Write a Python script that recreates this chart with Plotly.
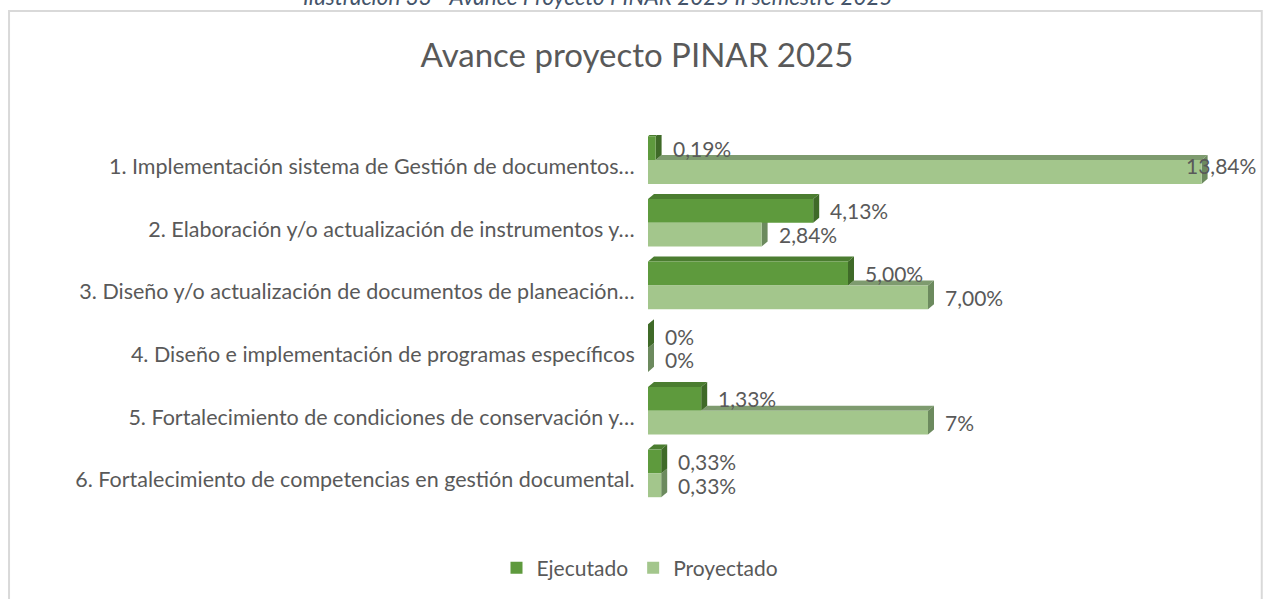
import plotly.graph_objects as go

categories = [
    "1. Implementación sistema de Gestión de documentos…",
    "2. Elaboración y/o actualización de instrumentos y…",
    "3. Diseño y/o actualización de documentos de planeación…",
    "4. Diseño e implementación de programas específicos",
    "5. Fortalecimiento de condiciones de conservación y…",
    "6. Fortalecimiento de competencias en gestión documental.",
]
ejecutado = [0.19, 4.13, 5.00, 0.0, 1.33, 0.33]
proyectado = [13.84, 2.84, 7.00, 0.0, 7.00, 0.33]
ejecutado_labels = ["0,19%", "4,13%", "5,00%", "0%", "1,33%", "0,33%"]
proyectado_labels = ["13,84%", "2,84%", "7,00%", "0%", "7%", "0,33%"]

FONT = "Lato"
GREY = "#595959"
C_EJ = "#5E9A3D"
C_EJ_TOP = "#4B7D30"
C_EJ_SIDE = "#3F6A28"
C_PR = "#A3C68C"
C_PR_TOP = "#7E9B6F"
C_PR_SIDE = "#6C8A5E"

ypos = list(range(len(categories)))
BW = 0.38          # bar thickness (category units)
OFF_EJ = -0.48     # Ejecutado bar offset from category centre
OFF_PR = -0.10     # Proyectado bar offset from category centre
DX = 0.15          # 3D depth, x data units
DY = 0.08          # 3D depth, category units
XMAX = 14
PX_PER_X = 560 / XMAX

fig = go.Figure()
fig.add_trace(go.Bar(
    name="Ejecutado", y=ypos, x=ejecutado, orientation="h",
    width=BW, offset=OFF_EJ,
    marker=dict(color=C_EJ, line=dict(width=0)),
))
fig.add_trace(go.Bar(
    name="Proyectado", y=ypos, x=proyectado, orientation="h",
    width=BW, offset=OFF_PR,
    marker=dict(color=C_PR, line=dict(width=0)),
))

shapes = []
def poly(pts, color):
    d = "M " + " L ".join(f"{x},{y}" for x, y in pts) + " Z"
    return dict(type="path", path=d, xref="x", yref="y", fillcolor=color,
                line=dict(width=0), layer="below")

# Proyectado 3D faces (drawn first, partly hidden by Ejecutado bars)
for i, ve, vp in zip(ypos, ejecutado, proyectado):
    top = i + OFF_PR
    bot = top + BW
    if vp > ve:
        shapes.append(poly([(ve, top), (vp, top), (vp + DX, top - DY), (ve + DX, top - DY)], C_PR_TOP))
    shapes.append(poly([(vp, top), (vp, bot), (vp + DX, bot - DY), (vp + DX, top - DY)], C_PR_SIDE))
# Ejecutado 3D faces
for i, ve in zip(ypos, ejecutado):
    top = i + OFF_EJ
    bot = top + BW
    shapes.append(poly([(0, top), (ve, top), (ve + DX, top - DY), (DX, top - DY)], C_EJ_TOP))
    shapes.append(poly([(ve, top), (ve, bot), (ve + DX, bot - DY), (ve + DX, top - DY)], C_EJ_SIDE))

# chart border
shapes.append(dict(type="rect", xref="paper", yref="paper", x0=-1.141, x1=1.096,
                   y0=-0.4, y1=1.330, line=dict(color="#D9D9D9", width=2),
                   fillcolor="rgba(0,0,0,0)", layer="below"))

# data labels
annotations = []
LBL_FONT = dict(family=FONT, size=21, color=GREY)
def add_labels(values, labels, off):
    for i, v, t in zip(ypos, values, labels):
        y = i + off + BW / 2
        if v * PX_PER_X + 16 + 60 > 607:
            annotations.append(dict(x=v, y=y, xref="x", yref="y", text=t, showarrow=False,
                                    xanchor="right", xshift=56, yshift=6, font=LBL_FONT))
        else:
            annotations.append(dict(x=v, y=y, xref="x", yref="y", text=t, showarrow=False,
                                    xanchor="left", xshift=15, font=LBL_FONT))
add_labels(ejecutado, ejecutado_labels, OFF_EJ)
add_labels(proyectado, proyectado_labels, OFF_PR)

annotations.append(dict(text="<i>Ilustración 33 - Avance Proyecto PINAR 2025 II semestre 2025</i>",
                        xref="paper", yref="paper", x=(598 - 648) / 560, y=(511 - 12) / 376,
                        xanchor="center", yanchor="bottom", showarrow=False,
                        font=dict(family=FONT, size=22.5, color="#44546A")))

fig.update_layout(
    width=1264, height=599,
    margin=dict(l=648, r=56, t=135, b=88, autoexpand=False),
    paper_bgcolor="white", plot_bgcolor="white",
    barmode="overlay",
    shapes=shapes,
    annotations=annotations,
    font=dict(family=FONT, color=GREY),
    title=dict(text="Avance proyecto PINAR 2025", x=637 / 1264, xref="container",
               xanchor="center", y=1 - 55 / 599, yref="container", yanchor="middle",
               font=dict(family=FONT, size=33, color=GREY)),
    xaxis=dict(range=[0, XMAX], visible=False, showgrid=False, zeroline=False, automargin=False),
    yaxis=dict(tickmode="array", tickvals=ypos, ticktext=categories, automargin=False,
               range=[len(categories) - 0.5, -0.5], showgrid=False, zeroline=False,
               showline=False, ticks="outside", ticklen=8, tickcolor="rgba(0,0,0,0)",
               tickfont=dict(family=FONT, size=21.5, color=GREY)),
    legend=dict(orientation="h", x=640 / 1264, xref="container", xanchor="center",
                y=1 - 568 / 599, yref="container", yanchor="middle",
                font=dict(family=FONT, size=21, color=GREY),
                traceorder="normal"),
)

fig.write_html("out.html", config={"displayModeBar": False},
               post_script="document.body.style.margin='0';document.body.style.overflow='hidden';")
